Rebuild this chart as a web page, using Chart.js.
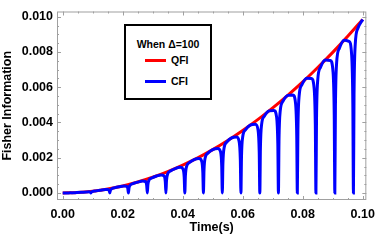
<!DOCTYPE html>
<html>
<head>
<meta charset="utf-8">
<script src="https://cdn.jsdelivr.net/npm/chart.js@4"></script>
<style>
  html, body { margin: 0; padding: 0; background: #fff; }
  #wrap { position: relative; width: 382px; height: 245px; }
  #legend {
    position: absolute; left: 124px; top: 24px; width: 84px; height: 72px;
    border: 2px solid #000; background: #fff;
    font: bold 10.5px "Liberation Sans", Arial, sans-serif; color: #000;
  }
  #legend .title { position: absolute; left: 0; width: 100%; top: 12px; text-align: center; }
  #legend .row { position: absolute; left: 19px; height: 12px; line-height: 12px; }
  #legend .sw { display: inline-block; width: 21px; height: 3px; vertical-align: middle; margin-right: 5px; position: relative; top: -1px; }
</style>
</head>
<body>
<div id="wrap">
  <canvas id="chart" width="382" height="245"></canvas>
  <div id="legend">
    <div class="title">When Δ=100</div>
    <div class="row" style="top:28px"><span class="sw" style="background:#ff0000"></span>QFI</div>
    <div class="row" style="top:49px"><span class="sw" style="background:#0000ff"></span>CFI</div>
  </div>
</div>
<script>
// QFI
let qfiTime = [0, 0.005, 0.01, 0.015, 0.02, 0.025, 0.03, 0.035, 0.04, 0.045, 0.05,
  0.055, 0.06, 0.065, 0.07, 0.075, 0.08, 0.085, 0.09, 0.095, 0.1]
let qfi = [0, 0.000025, 0.0001, 0.00022, 0.00039, 0.00062, 0.00089, 0.00121, 0.00158, 0.00199, 0.00246,
  0.00298, 0.00355, 0.00416, 0.00483, 0.00554, 0.0063, 0.00712, 0.00798, 0.00889, 0.00985]

// CFI, blue curve with its sharp dips down to zero
let cfiTime = [0,
  0.0016, 0.0025, 0.0029, 0.0031, 0.0033, 0.0037, 0.0046, 0.0062,
  0.0079, 0.0088, 0.0092, 0.0094, 0.0096, 0.0100, 0.0109, 0.0125,
  0.0142, 0.0151, 0.0155, 0.0157, 0.0159, 0.0163, 0.0172, 0.0188,
  0.0204, 0.0213, 0.0217, 0.0219, 0.0221, 0.0225, 0.0234, 0.0250,
  0.0267, 0.0276, 0.0280, 0.0282, 0.0284, 0.0288, 0.0297, 0.0313,
  0.0329, 0.0338, 0.0342, 0.0344, 0.0346, 0.0350, 0.0359, 0.0375,
  0.0392, 0.0401, 0.0405, 0.0407, 0.0409, 0.0413, 0.0422, 0.0438,
  0.0454, 0.0463, 0.0467, 0.0469, 0.0471, 0.0475, 0.0484, 0.0500,
  0.0517, 0.0526, 0.0530, 0.0532, 0.0534, 0.0538, 0.0547, 0.0563,
  0.0579, 0.0588, 0.0592, 0.0594, 0.0596, 0.0600, 0.0609, 0.0625,
  0.0642, 0.0651, 0.0655, 0.0657, 0.0659, 0.0663, 0.0672, 0.0688,
  0.0704, 0.0713, 0.0717, 0.0719, 0.0721, 0.0725, 0.0734, 0.0750,
  0.0767, 0.0776, 0.0780, 0.0782, 0.0784, 0.0788, 0.0797, 0.0813,
  0.0829, 0.0838, 0.0842, 0.0844, 0.0846, 0.0850, 0.0859, 0.0875,
  0.0892, 0.0901, 0.0905, 0.0907, 0.0909, 0.0913, 0.0922, 0.0938,
  0.0954, 0.0963, 0.0967, 0.0969, 0.0971, 0.0975, 0.0984, 0.1000]
let cfi = [0,
  0.000002, 0.000005, 0.000005, 0, 0.000006, 0.000012, 0.00002, 0.000038,
  0.000059, 0.000066, 0.000046, 0, 0.000054, 0.000089, 0.000115, 0.000154,
  0.000191, 0.000193, 0.00013, 0, 0.000149, 0.000236, 0.000286, 0.000348,
  0.000394, 0.000384, 0.000255, 0, 0.000289, 0.000449, 0.000529, 0.000616,
  0.000674, 0.000645, 0.000425, 0, 0.000477, 0.000735, 0.000852, 0.000965,
  0.001024, 0.000968, 0.000634, 0, 0.000708, 0.001086, 0.001244, 0.001385,
  0.001453, 0.001362, 0.000889, 0, 0.000989, 0.001512, 0.001719, 0.00189,
  0.001949, 0.001816, 0.001182, 0, 0.001311, 0.002, 0.002261, 0.002463,
  0.002528, 0.002344, 0.001522, 0, 0.001685, 0.002566, 0.002888, 0.003122,
  0.00317, 0.002929, 0.001899, 0, 0.002099, 0.003191, 0.00358, 0.003848,
  0.003897, 0.00359, 0.002324, 0, 0.002567, 0.003897, 0.004359, 0.004662,
  0.004687, 0.004306, 0.002785, 0, 0.003072, 0.00466, 0.005201, 0.005541,
  0.005563, 0.005101, 0.003296, 0, 0.003633, 0.005505, 0.006132, 0.006511,
  0.006499, 0.005949, 0.003841, 0, 0.00423, 0.006405, 0.007123, 0.007541,
  0.007524, 0.006877, 0.004437, 0, 0.004883, 0.00739, 0.008206, 0.008667,
  0.008606, 0.007856, 0.005066, 0, 0.005572, 0.008427, 0.009347, 0.00985]

let xTicks = [0, 0.02, 0.04, 0.06, 0.08, 0.1]
let yTicks = [0, 0.002, 0.004, 0.006, 0.008, 0.01]

Chart.defaults.font.family = '"Liberation Sans", Arial, sans-serif'
Chart.defaults.color = '#000'

// Mathematica style frame with inward major/minor ticks on all four sides
const frame = {
  id: 'frame',
  afterDraw(chart) {
    const { ctx, chartArea: a, scales: { x, y } } = chart
    ctx.save()
    ctx.strokeStyle = '#a0a0a0'
    ctx.lineWidth = 1
    ctx.strokeRect(a.left + 0.5, a.top + 0.5, a.right - a.left - 1, a.bottom - a.top - 1)
    ctx.beginPath()
    for (let i = 0; i <= 20; i++) {
      const px = Math.round(x.getPixelForValue(i * 0.005)) + 0.5
      const len = i % 4 === 0 ? 4 : 2
      ctx.moveTo(px, a.bottom); ctx.lineTo(px, a.bottom - len)
      ctx.moveTo(px, a.top); ctx.lineTo(px, a.top + len)
    }
    for (let i = 0; i <= 20; i++) {
      const py = Math.round(y.getPixelForValue(i * 0.0005)) + 0.5
      const len = i % 4 === 0 ? 4 : 2
      ctx.moveTo(a.left, py); ctx.lineTo(a.left + len, py)
      ctx.moveTo(a.right, py); ctx.lineTo(a.right - len, py)
    }
    ctx.stroke()
    ctx.restore()
  }
}

const ctx = document.getElementById('chart')
new Chart(ctx, {
  type: 'line',
  data: {
    datasets: [
      {
        label: 'QFI',
        data: qfiTime.map((t, i) => ({ x: t, y: qfi[i] })),
        borderColor: '#ff0000',
        borderWidth: 3,
        pointRadius: 0,
        cubicInterpolationMode: 'monotone',
        order: 2
      },
      {
        label: 'CFI',
        data: cfiTime.map((t, i) => ({ x: t, y: cfi[i] })),
        borderColor: '#0000ff',
        borderWidth: 3,
        pointRadius: 0,
        cubicInterpolationMode: 'monotone',
        order: 1
      }
    ]
  },
  options: {
    responsive: false,
    animation: false,
    layout: { padding: { top: 1, right: 9, left: 0, bottom: 0 } },
    plugins: { legend: { display: false }, tooltip: { enabled: false } },
    scales: {
      x: {
        type: 'linear',
        min: -0.0019,
        max: 0.1012,
        afterBuildTicks: s => { s.ticks = xTicks.map(v => ({ value: v })) },
        afterFit: s => { s.height = 45 },
        ticks: {
          font: { size: 12.5, weight: 'bold' },
          padding: 7,
          maxRotation: 0,
          callback: v => v.toFixed(2)
        },
        grid: { display: false, drawTicks: false },
        border: { display: false },
        title: {
          display: true,
          text: 'Time(s)',
          font: { size: 12.5, weight: 'bold' },
          padding: { top: 0, bottom: 10 }
        }
      },
      y: {
        type: 'linear',
        min: -0.0004,
        max: 0.0103,
        afterBuildTicks: s => { s.ticks = yTicks.map(v => ({ value: v })) },
        afterFit: s => { s.width = 57 },
        ticks: {
          font: { size: 12.5, weight: 'bold' },
          padding: 4,
          callback: v => v.toFixed(3)
        },
        grid: { display: false, drawTicks: false },
        border: { display: false },
        title: {
          display: true,
          text: 'Fisher Information',
          font: { size: 12.5, weight: 'bold' },
          padding: 0
        }
      }
    }
  },
  plugins: [frame]
})
</script>
</body>
</html>
